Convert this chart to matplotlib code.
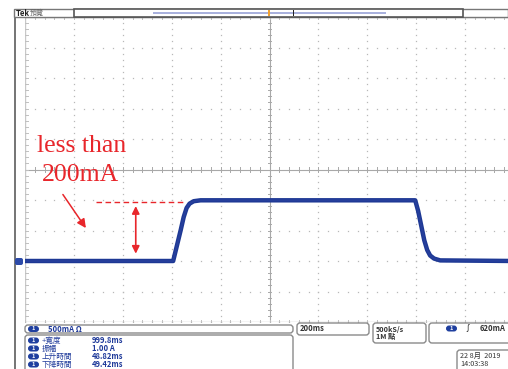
import numpy as np
import matplotlib
matplotlib.use("Agg")
import matplotlib.pyplot as plt
from matplotlib.patches import FancyBboxPatch, Rectangle
from matplotlib.transforms import IdentityTransform

plt.rcParams['font.family'] = ['Noto Sans CJK TC', 'DejaVu Sans']

# ---- data (time in ms relative to trigger, current in A) ----
t_ms = [-1000, -394, -380, -363, -351, -339, -327, -310, -282,
        596, 608, 620, 633, 645, 657, 673, 698, 1000]
i_A = [0.0, 0.0, 0.23, 0.51, 0.72, 0.87, 0.94, 0.98, 0.995,
       0.995, 0.82, 0.59, 0.34, 0.18, 0.09, 0.04, 0.01, 0.0]

ch_scale = "500mA \u03a9"
timebase = "200ms"
sample = "500kS/s\n1M 點"
trigger = "620mA"
meas_labels = ["+寬度", "振幅", "上升時間", "下降時間"]
meas_values = ["999.8ms", "1.00 A", "48.82ms", "49.42ms"]
date_txt = "22 8月  2019\n14:03:38"
annot1 = "less than"
annot2 = "200mA"

W, H = 508, 369
fig = plt.figure(figsize=(W / 100, H / 100), dpi=100)
fig.patch.set_facecolor('white')

def P(x, y):
    return (x, H - y)

ID = IdentityTransform()

# ---- scope graticule axes ----
ax = fig.add_axes([25 / W, (H - 322) / H, 489 / W, 305 / H])
ax.set_xlim(-1000, 1000)
ax.set_ylim(-1.0, 4.0)
ax.set_axis_off()

gcol = '#b8b8b8'
for xv in np.arange(-1000, 1001, 200):
    if xv == 0:
        continue
    yy = np.arange(-1.0, 4.0001, 0.1)
    ax.plot([xv] * len(yy), yy, ls='none', marker='s', ms=0.9, color=gcol, mec='none')
for yv in np.arange(-1.0, 4.001, 0.5):
    if abs(yv - 1.5) < 1e-6:
        continue
    xx = np.arange(-1000, 1001, 40)
    ax.plot(xx, [yv] * len(xx), ls='none', marker='s', ms=0.9, color=gcol, mec='none')
# center axes with ticks
ax.axvline(0, color='#a8a8a8', lw=0.8)
ax.axhline(1.5, color='#a8a8a8', lw=0.8)
for yv in np.arange(-1.0, 4.001, 0.1):
    ax.plot([-8, 8], [yv, yv], color='#a8a8a8', lw=0.7)
for xv in np.arange(-1000, 1001, 40):
    ax.plot([xv, xv], [1.5 - 0.04, 1.5 + 0.04], color='#a8a8a8', lw=0.7)
# border
ax.axvline(-1000, color='#c8c8c8', lw=1.0)
ax.axhline(-1.0, color='#c8c8c8', lw=1.0)
ax.axhline(4.0, color='#c8c8c8', lw=1.0)
for yv in np.arange(-1.0, 4.001, 0.1):
    ax.plot([-1000, -988], [yv, yv], color='#c0c0c0', lw=0.7)
for xv in np.arange(-1000, 1001, 40):
    ax.plot([xv, xv], [4.0, 3.96], color='#c0c0c0', lw=0.7)
    ax.plot([xv, xv], [-1.0, -0.96], color='#c0c0c0', lw=0.7)

# trace
ax.plot(t_ms, i_A, color='#1d3894', lw=3.2, solid_joinstyle='round', solid_capstyle='butt', zorder=5)
ax.plot(t_ms, i_A, color='#263f9c', lw=1.4, solid_joinstyle='round', zorder=6)

# red annotations
red = '#e8262b'
ax.plot([-710, -355], [0.975, 0.975], color=red, lw=1.0, ls=(0, (4, 2.5)), zorder=7)
ax.annotate('', xy=(-547, 0.9), xytext=(-547, 0.12),
            arrowprops=dict(arrowstyle='<|-|>', color=red, lw=1.2,
                            mutation_scale=11, shrinkA=0, shrinkB=0), zorder=7)
ax.annotate('', xy=(-751, 0.54), xytext=(-845, 1.09),
            arrowprops=dict(arrowstyle='-|>', color=red, lw=1.1,
                            mutation_scale=13, shrinkA=0, shrinkB=0), zorder=7)
ax.text(-950, 1.89, annot1, color=red, fontsize=18.5, family='Liberation Serif',
        ha='left', va='center')
ax.text(-930, 1.41, annot2, color=red, fontsize=18.5, family='Liberation Serif',
        ha='left', va='center')

# ---- outer frame & top bar ----
frame_col = '#777777'
fig.add_artist(Rectangle(P(14, 369), 1.5, 360, transform=ID, color=frame_col, lw=0))
fig.add_artist(Rectangle(P(14, 17), 494, 8, transform=ID, fc='white', ec=frame_col, lw=1.0))
fig.add_artist(Rectangle(P(74, 17), 389, 8, transform=ID, fc='white', ec='#555555', lw=1.2))
fig.add_artist(Rectangle(P(153, 13.5), 233, 1.6, transform=ID, color='#a9b1dd', lw=0))
fig.add_artist(Rectangle(P(268, 16), 2.4, 6, transform=ID, color='#f0a030', lw=0))
fig.add_artist(Rectangle(P(293, 16), 1.2, 6, transform=ID, color='#222222', lw=0))
fig.text(16 / W, 1 - 13 / H, "Tek", fontsize=5.5, fontweight='bold', color='#222222',
         va='center', ha='left')
fig.text(30 / W, 1 - 13 / H, "預覽", fontsize=5, color='#666666', va='center', ha='left')

# ground marker
fig.add_artist(FancyBboxPatch(P(15, 265), 8, 7, transform=ID,
                              boxstyle='round,pad=0,rounding_size=2', fc='#2c4aa8', ec='none'))

# ---- bottom info boxes ----
def box(x0, y0, x1, y1, r=3):
    fig.add_artist(FancyBboxPatch(P(x0, y1), x1 - x0, y1 - y0, transform=ID,
                                  boxstyle='round,pad=0,rounding_size=%g' % r,
                                  fc='white', ec='#8a8a8a', lw=1.0))

def pill(x, y):
    fig.add_artist(FancyBboxPatch(P(x, y + 3), 11, 6, transform=ID,
                                  boxstyle='round,pad=0,rounding_size=3', fc='#1f3f9f', ec='none'))
    fig.text((x + 5.5) / W, 1 - y / H, "1", fontsize=4, color='white', ha='center',
             va='center', fontweight='bold')

blue = '#1f3a9a'
box(25, 325, 293, 333)
pill(28, 329)
fig.text(48 / W, 1 - 329 / H, ch_scale, fontsize=5.5, color=blue, fontweight='bold', va='center')

box(25, 335, 293, 375)
rows_y = [340.5, 348.5, 356.5, 364.5]
for yy, lab, val in zip(rows_y, meas_labels, meas_values):
    pill(28, yy)
    fig.text(42 / W, 1 - yy / H, lab, fontsize=5.5, color=blue, va='center')
    fig.text(92 / W, 1 - yy / H, val, fontsize=5.5, color=blue, fontweight='bold', va='center')

box(297, 323, 369, 335)
fig.text(300 / W, 1 - 328.5 / H, timebase, fontsize=5.5, color='#333333', fontweight='bold', va='center')

box(373, 323, 426, 343)
fig.text(376 / W, 1 - 333 / H, sample, fontsize=5.2, color='#333333', fontweight='bold',
         va='center', linespacing=0.95)

box(429, 323, 520, 343)
pill(446, 328.5)
fig.text(463 / W, 1 - 328.5 / H, "\u222b", fontsize=6, color='#222222', va='center', style='italic')
fig.text(480 / W, 1 - 328.5 / H, trigger, fontsize=5.5, color='#333333', fontweight='bold', va='center')

box(457, 350, 520, 375)
fig.text(460 / W, 1 - 360 / H, date_txt, fontsize=5.2, color='#333333', va='center',
         linespacing=0.95)

fig.savefig('out.png', dpi=100)
